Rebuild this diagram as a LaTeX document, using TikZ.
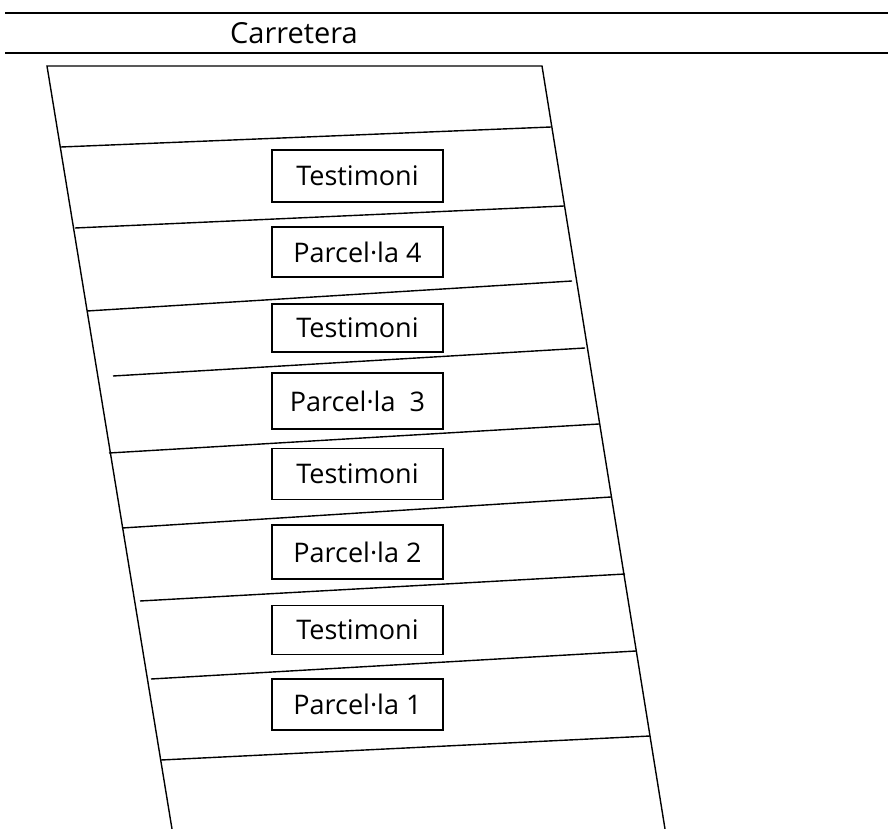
\documentclass[tikz,border=0pt]{standalone}
\usepackage{fontspec}
\setmainfont{Open Sans}
\usetikzlibrary{positioning}
\tikzset{parcel/.style={rectangle, minimum width=171pt, minimum height=50pt, text centered, draw=black, line width=1.3pt, font=\fontsize{27}{31}\selectfont},road/.style={line width=1.5pt},edge/.style={line width=1.4pt}}

\begin{document}
\begin{tikzpicture}[x=1pt,y=-1pt]
\useasboundingbox (0,0) rectangle (888,829);

% carretera
\draw[road] (5,13) -- (888,13);
\draw[road] (5,53) -- (888,53);
\node(road) at (294,33) [font=\fontsize{29}{33}\selectfont] {Carretera};

% terreny
\draw[edge] (172,829) -- (47,66) -- (542,66) -- (665,829);
\draw[edge] (61,147) -- (551,127);
\draw[edge] (75,228) -- (564,206);
\draw[edge] (87,311) -- (572,281);
\draw[edge] (113,376) -- (585,348);
\draw[edge] (109,453) -- (599,424);
\draw[edge] (122,528) -- (611,497);
\draw[edge] (140,601) -- (625,574);
\draw[edge] (151,679) -- (636,651);
\draw[edge] (161,760) -- (650,736);

\node(wit4) at (357.5,176) [parcel, minimum height=52pt] {Testimoni};
\node(plot4) at (357.5,252) [parcel] {Parcel·la 4};
\node(wit3) at (357.5,328) [parcel, minimum height=48pt] {Testimoni};
\node(plot3) at (357.5,401) [parcel, minimum height=56pt] {Parcel·la\ \ 3};
\node(wit2) at (357.5,474) [parcel, minimum height=51pt] {Testimoni};
\node(plot2) at (357.5,552) [parcel, minimum height=54pt] {Parcel·la 2};
\node(wit1) at (357.5,630) [parcel, minimum height=49pt] {Testimoni};
\node(plot1) at (357.5,704.5) [parcel, minimum height=51pt] {Parcel·la 1};

\end{tikzpicture}
\end{document}
